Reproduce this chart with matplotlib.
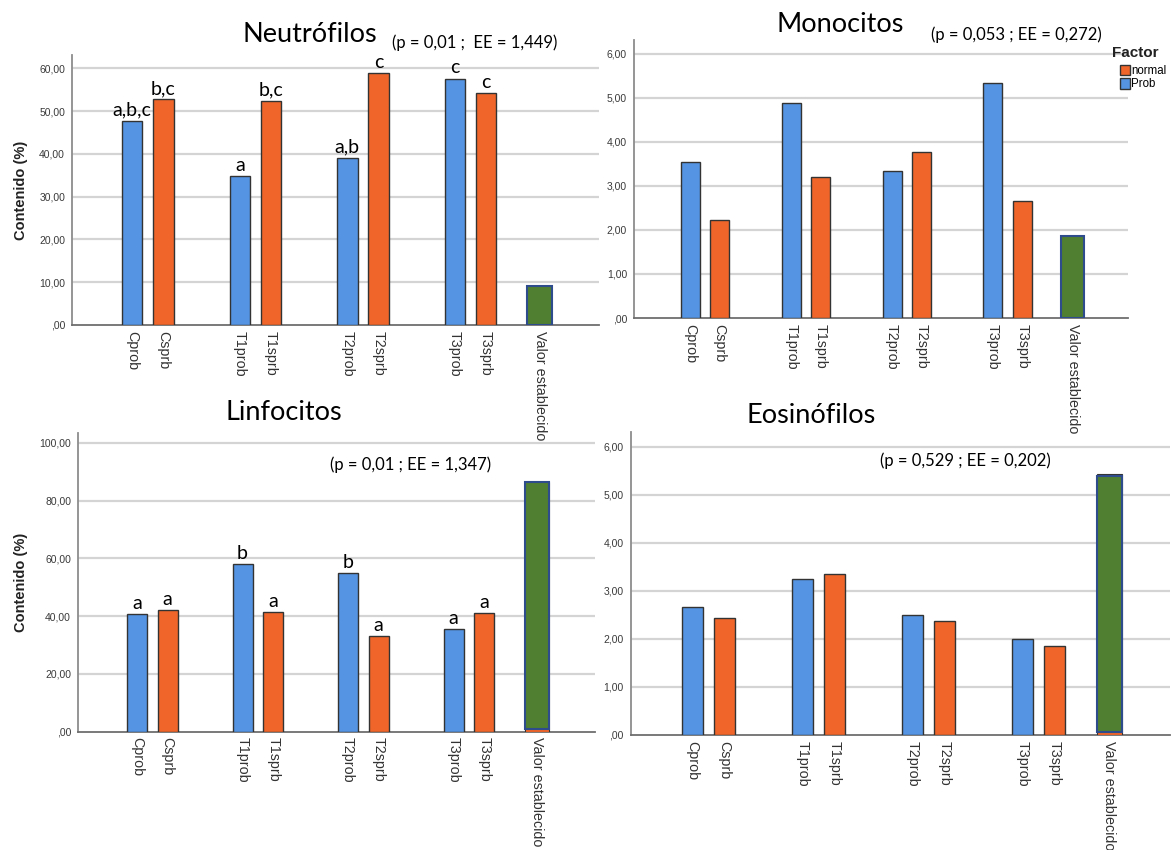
import matplotlib
matplotlib.use("Agg")
import matplotlib.pyplot as plt
from matplotlib.patches import Patch

# ---------------- data ----------------
categories = ["Cprob", "Csprb", "T1prob", "T1sprb", "T2prob", "T2sprb",
              "T3prob", "T3sprb", "Valor establecido"]
groups = ["Prob", "normal", "Prob", "normal", "Prob", "normal", "Prob", "normal", "Valor"]

neutro_values = [47.7, 52.8, 34.8, 52.4, 39.1, 58.8, 57.6, 54.3, 9.1]
neutro_letters = ["a,b,c", "b,c", "a", "b,c", "a,b", "c", "c", "c", ""]
neutro_ticks = [0, 10, 20, 30, 40, 50, 60]

mono_values = [3.54, 2.22, 4.87, 3.21, 3.33, 3.77, 5.33, 2.66, 1.86]
mono_ticks = [0, 1, 2, 3, 4, 5, 6]

linf_values = [40.8, 42.1, 58.1, 41.3, 54.8, 33.2, 35.5, 41.1, 86.5]
linf_letters = ["a", "a", "b", "a", "b", "a", "a", "a", ""]
linf_ticks = [0, 20, 40, 60, 80, 100]

eos_values = [2.66, 2.43, 3.25, 3.34, 2.50, 2.38, 2.00, 1.85, 5.38]
eos_ticks = [0, 1, 2, 3, 4, 5, 6]

# "Valor establecido": normal bar drawn underneath the green one
valor_under = {"neutro": None, "mono": None, "linf": 86.5, "eos": 5.43}
valor_base = {"neutro": 0.0, "mono": 0.0, "linf": 0.8, "eos": 0.07}

titles = ["Neutrófilos", "Monocitos", "Linfocitos", "Eosinófilos"]
ptexts = ["(p = 0,01 ;  EE = 1,449)", "(p = 0,053 ; EE = 0,272)",
          "(p = 0,01 ; EE = 1,347)", "(p = 0,529 ; EE = 0,202)"]
legend_title = "Factor"
legend_labels = ["normal", "Prob"]

# ---------------- style ----------------
BLUE = "#5494E2"
ORANGE = "#F0652A"
GREEN = "#517F31"
EDGE = "#333333"
GREEN_EDGE = "#2E4C8C"
W, H = 1171, 850
OFF = 0.21
BW = 0.38
BW_V = 0.46

plt.rcParams["font.family"] = ["Liberation Sans", "DejaVu Sans"]
fig = plt.figure(figsize=(W / 100, H / 100), dpi=100)
fig.patch.set_facecolor("white")


def rect(l, r, t, b):
    return [l / W, 1 - b / H, (r - l) / W, (b - t) / H]


def fmt(v):
    s = f"{v:.2f}".replace(".", ",")
    return ",00" if v == 0 else s


def positions():
    pos = []
    for i, g in enumerate(groups):
        if g == "Prob":
            pos.append(i + OFF)
        else:
            pos.append(i - OFF)
    return pos


def panel(box, values, ticks, ytop, key, letters=None, ylabel=False, ylabx=-0.1):
    ax = fig.add_axes(rect(*box))
    ax.set_facecolor("none")
    pos = positions()
    for p, v, g in zip(pos, values, groups):
        if g == "Valor":
            if valor_under[key] is not None:
                ax.bar(p, valor_under[key], width=BW_V, color=ORANGE,
                       edgecolor=EDGE, linewidth=0.8, zorder=3)
            ax.bar(p, v - valor_base[key], bottom=valor_base[key], width=BW_V,
                   color=GREEN, edgecolor=GREEN_EDGE, linewidth=1.5, zorder=4)
        else:
            ax.bar(p, v, width=BW, color=BLUE if g == "Prob" else ORANGE,
                   edgecolor=EDGE, linewidth=1.0, zorder=3)
    if letters:
        for p, v, t in zip(pos, values, letters):
            if t:
                ax.annotate(t, (p, v), xytext=(0, 1.5), textcoords="offset points",
                            ha="center", va="bottom", fontsize=14,
                            family=["Lato", "DejaVu Sans"], zorder=5)
    ax.set_xlim(-0.91, 8.89)
    ax.set_ylim(0, ytop)
    ax.set_yticks(ticks)
    ax.set_yticklabels([fmt(t) for t in ticks], fontsize=7.5, color="#3A3A3A")
    ax.set_xticks(pos)
    ax.set_xticklabels(categories, rotation=270, fontsize=10.3, color="#333333",
                       ha="center", va="top")
    ax.tick_params(axis="both", length=0)
    ax.tick_params(axis="y", pad=5)
    ax.tick_params(axis="x", pad=4)
    for t in ticks:
        if t != 0:
            ax.axhline(t, color="#D4D4D4", linewidth=1.6, zorder=1)
    for s in ["top", "right"]:
        ax.spines[s].set_visible(False)
    ax.spines["left"].set_color("#8C8C8C")
    ax.spines["left"].set_linewidth(1.3)
    ax.spines["bottom"].set_color("#6E6E6E")
    ax.spines["bottom"].set_linewidth(1.3)
    if ylabel:
        ax.set_ylabel("Contenido (%)", fontsize=10.5, fontweight="bold", color="#222222")
        ax.yaxis.set_label_coords(ylabx, 0.5)
    return ax


ax1 = panel((72, 599, 55, 325), neutro_values, neutro_ticks, 63.1, "neutro",
            letters=neutro_letters, ylabel=True, ylabx=-0.084)
ax2 = panel((634, 1128, 40, 318), mono_values, mono_ticks, 6.31, "mono")
ax3 = panel((78, 595, 433, 731.7), linf_values, linf_ticks, 103.4, "linf",
            letters=linf_letters, ylabel=True, ylabx=-0.097)
ax4 = panel((630.6, 1170, 431.7, 735), eos_values, eos_ticks, 6.31, "eos")

# legend (Monocitos panel)
fig.text(1112 / W, 1 - 53 / H, legend_title, ha="left", va="center",
         fontsize=11, fontweight="bold", color="#222222")
handles = [Patch(facecolor=ORANGE, edgecolor=EDGE, label=legend_labels[0]),
           Patch(facecolor=BLUE, edgecolor=EDGE, label=legend_labels[1])]
leg = ax2.legend(handles=handles, loc="upper left",
                 bbox_to_anchor=(1120 / W, 1 - 65 / H), bbox_transform=fig.transFigure,
                 frameon=False, fontsize=8.3, handlelength=0.85, handleheight=1.0,
                 handletextpad=0.1, labelspacing=0.1, borderpad=0, borderaxespad=0)

# titles and p-value annotations
title_pos = [(310, 35), (840, 25), (284, 413), (811, 415)]
ptext_pos = [(475, 43), (1016, 35), (411, 465), (965, 461)]
for t, (x, y) in zip(titles, title_pos):
    fig.text(x / W, 1 - y / H, t, ha="center", va="center", fontsize=19.5,
             family=["Lato", "DejaVu Sans"], color="black")
for t, (x, y) in zip(ptexts, ptext_pos):
    fig.text(x / W, 1 - y / H, t, ha="center", va="center", fontsize=12,
             family=["Lato", "DejaVu Sans"], color="black")

fig.savefig("out.png", dpi=100, facecolor="white")
